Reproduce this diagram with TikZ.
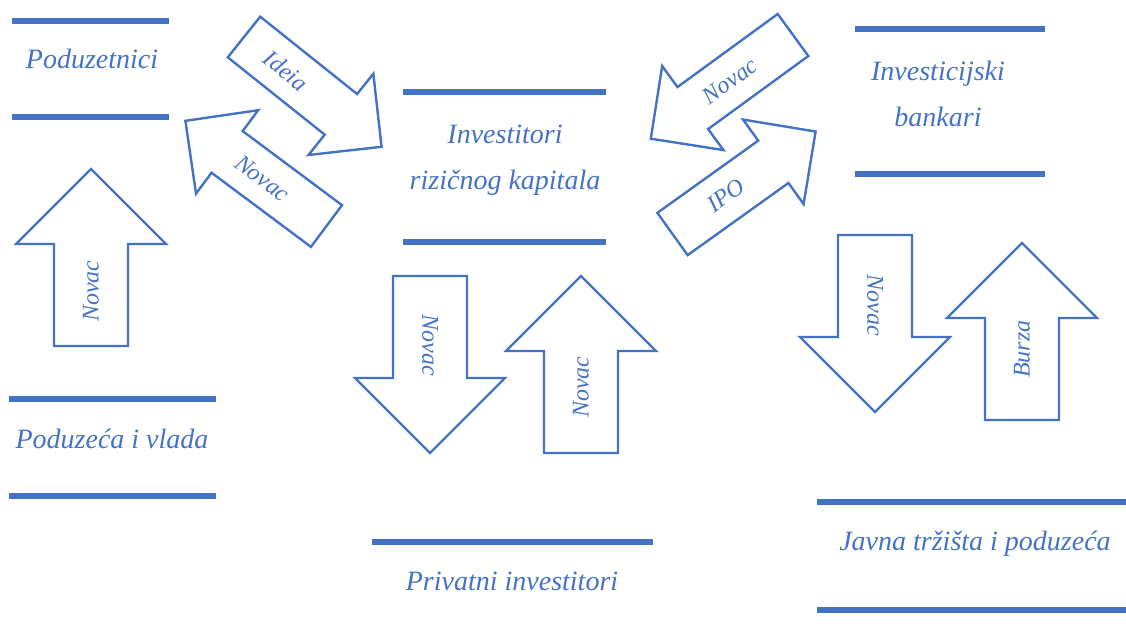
\documentclass[tikz,border=0pt]{standalone}
\usepackage{fontspec}
\setmainfont{Liberation Serif}
\usepackage{tikz}

\definecolor{lineblue}{HTML}{4472C4}

\tikzset{
  groupbar/.style={draw=lineblue, line width=6pt},
  grouptext/.style={text=lineblue, font=\fontsize{28}{46}\selectfont\itshape, anchor=base, align=center},
  arrowline/.style={draw=lineblue, line width=2.4pt, line join=miter, fill=white},
  arrowtext/.style={text=lineblue, font=\fontsize{24}{26}\selectfont\itshape, transform shape, inner sep=0pt},
  pics/tallarrow/.style 2 args={code={
    \draw[arrowline] (0,-37) -- (102,-37) -- (102,-75) -- (177,0) -- (102,75) -- (102,37) -- (0,37) -- cycle;
    \node[arrowtext, rotate=#2] (-text) at (#1,0) {\tikzpictext};
  }},
  pics/slantarrow/.style 2 args={code={
    \draw[arrowline] (0,-26) -- (124,-26) -- (124,-52) -- (176,0) -- (124,52) -- (124,26) -- (0,26) -- cycle;
    \node[arrowtext, rotate=#2] (-text) at (#1,0) {\tikzpictext};
  }}
}

\begin{document}
\begin{tikzpicture}[x=1pt,y=-1pt]
\useasboundingbox (0,0) rectangle (1126,630);

% left column
\draw[groupbar] (12,21) -- (169,21);
\node[grouptext] (poduzetnici) at (92,68) {Poduzetnici};
\draw[groupbar] (12,117) -- (169,117);
\draw[groupbar] (9,399) -- (216,399);
\node[grouptext] (poduzeca) at (112,448) {Poduzeća i vlada};
\draw[groupbar] (9,496) -- (216,496);

% middle column (base anchor sits on the last line)
\draw[groupbar] (403,92) -- (606,92);
\node[grouptext] (investitori) at (505,189) {Investitori\\rizičnog kapitala};
\draw[groupbar] (403,242) -- (606,242);
\draw[groupbar] (372,542) -- (653,542);
\node[grouptext] (privatni) at (512,590) {Privatni investitori};

% right column
\draw[groupbar] (855,29) -- (1045,29);
\node[grouptext] (bankari) at (938,126) {Investicijski\\bankari};
\draw[groupbar] (855,174) -- (1045,174);
\draw[groupbar] (817,502) -- (1126,502);
\node[grouptext] (javna) at (975,550) {Javna tržišta i poduzeća};
\draw[groupbar] (817,610) -- (1126,610);

% vertical arrows
\pic[rotate=90, pic text=Novac] (novacA) at (91,346) {tallarrow={55}{0}};
\pic[rotate=-90, pic text=Novac] (novacB) at (430,276) {tallarrow={69}{0}};
\pic[rotate=90, pic text=Novac] (novacC) at (581,453) {tallarrow={66}{0}};
\pic[rotate=-90, pic text=Novac] (novacD) at (875,235) {tallarrow={70}{0}};
\pic[rotate=90, pic text=Burza] (burza) at (1022,420) {tallarrow={71}{0}};

% slanted arrows
\pic[rotate=-38.6, pic text=Ideia] (ideia) at (244,37) {slantarrow={54}{0}};
\pic[rotate=143.3, pic text=Novac] (novacE) at (326.5,226) {slantarrow={80}{180}};
\pic[rotate=216.1, pic text=Novac] (novacF) at (793,35) {slantarrow={78}{180}};
\pic[rotate=35.6, pic text=IPO] (ipo) at (672.5,234) {slantarrow={66}{0}};
\end{tikzpicture}
\end{document}
